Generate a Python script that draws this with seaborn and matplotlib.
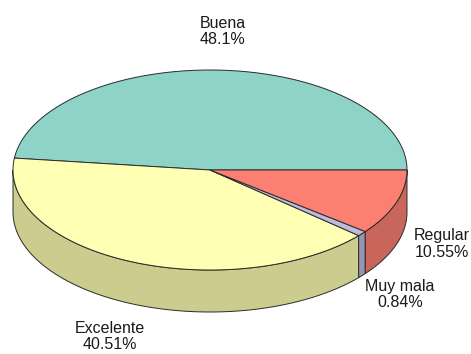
import numpy as np
import matplotlib
matplotlib.use("Agg")
import matplotlib.pyplot as plt
from matplotlib.patches import Polygon
import seaborn as sns

# Survey answers, in drawing order (counter-clockwise from 3 o'clock)
categories = ["Buena", "Excelente", "Muy mala", "Regular"]
shares = [48.10, 40.51, 0.84, 10.55]
share_labels = ["48.1%", "40.51%", "0.84%", "10.55%"]

sns.set_theme(style="white")
plt.rcParams["font.family"] = ["Liberation Sans", "DejaVu Sans"]
palette = sns.color_palette("Set3", len(categories))

# Ellipse geometry of the tilted disc (in figure pixels)
CX, CY, RX, RY, DEPTH = 210, 170, 197, 100, 42
EDGE = "#2b2b2b"
LW = 0.7

# Where each two-line label is centred
label_pos = {"Buena": (223, 31.5), "Excelente": (110, 336.5),
             "Muy mala": (400, 294.5), "Regular": (442, 244)}


def arc(a0, a1, drop=0.0, n=120):
    t = np.radians(np.linspace(a0, a1, n))
    return np.column_stack([CX + RX * np.cos(t), CY - RY * np.sin(t) + drop])


def darker(c, f=0.8):
    return tuple(v * f for v in c)


fig = plt.figure(figsize=(4.71, 3.54), dpi=100)
ax = fig.add_axes([0, 0, 1, 1])
ax.set_xlim(0, 471)
ax.set_ylim(354, 0)
ax.axis("off")

total = float(sum(shares))
bounds = np.concatenate([[0.0], np.cumsum(shares) / total * 360.0])

# Front walls (only the part of each slice facing the viewer)
for i, cat in enumerate(categories):
    a0, a1 = bounds[i], bounds[i + 1]
    s, e = max(a0, 180.0), min(a1, 360.0)
    if e <= s:
        continue
    top = arc(s, e)
    bot = arc(s, e, DEPTH)[::-1]
    ax.add_patch(Polygon(np.vstack([top, bot]), closed=True,
                         facecolor=darker(palette[i]), edgecolor=EDGE, lw=LW))

# Top faces
for i, cat in enumerate(categories):
    a0, a1 = bounds[i], bounds[i + 1]
    pts = np.vstack([[CX, CY], arc(a0, a1)])
    ax.add_patch(Polygon(pts, closed=True, facecolor=palette[i],
                         edgecolor=EDGE, lw=LW))

# Labels
for cat, lab in zip(categories, share_labels):
    x, y = label_pos[cat]
    ax.text(x, y, f"{cat}\n{lab}", ha="center", va="center", fontsize=11.5,
            linespacing=1.12, color="#1a1a1a")

fig.savefig("out.png", dpi=100)
